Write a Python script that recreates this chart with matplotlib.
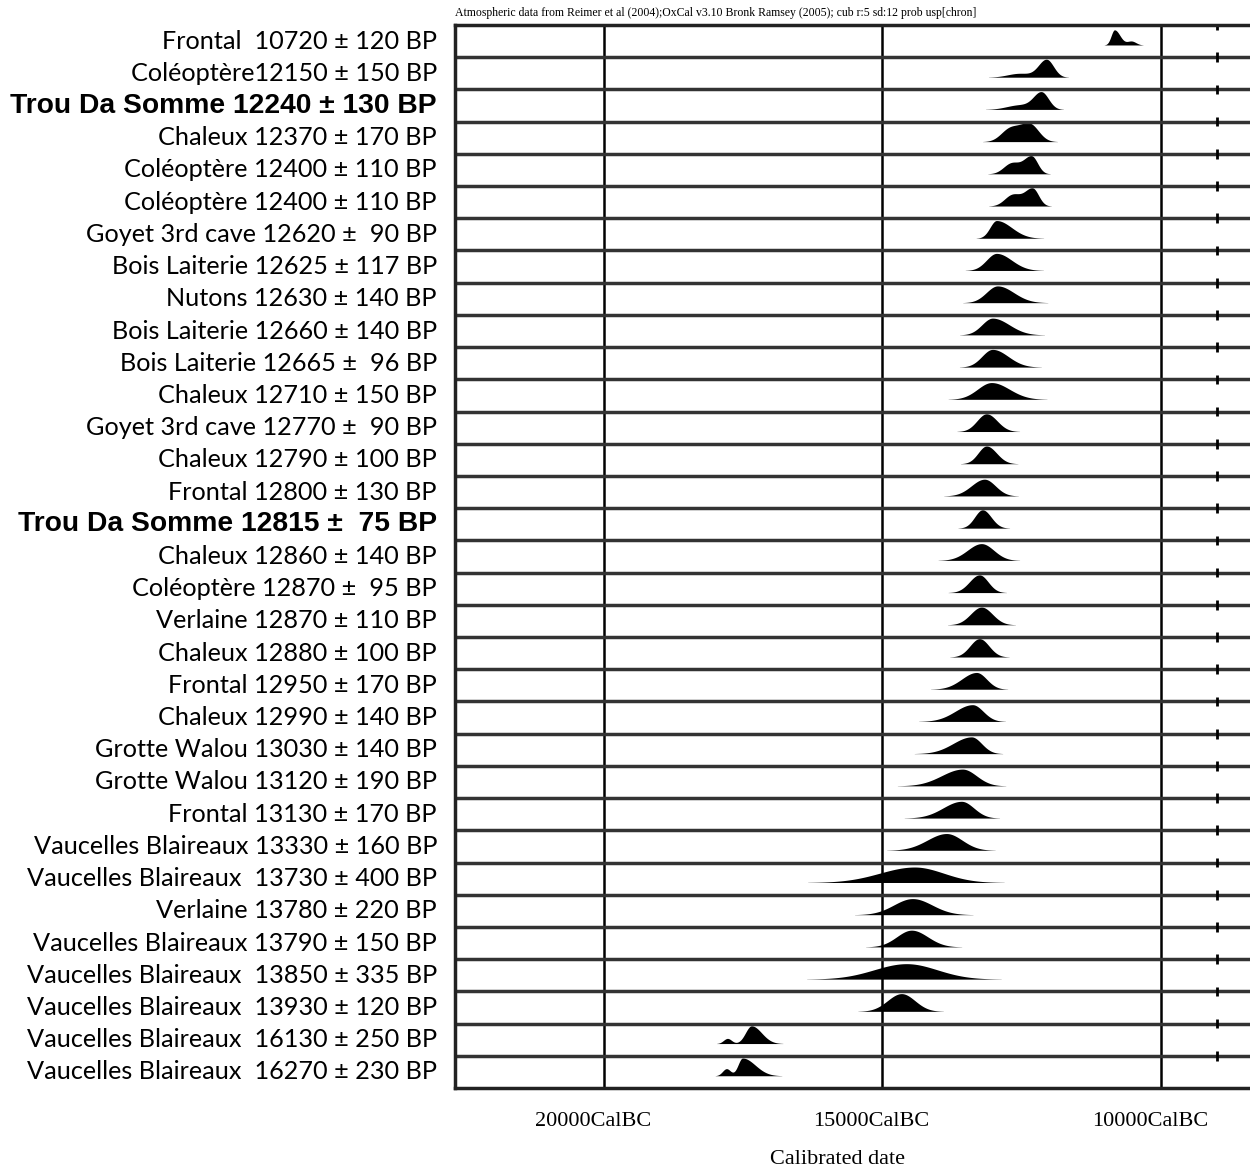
import numpy as np
import matplotlib.pyplot as plt
from matplotlib.transforms import blended_transform_factory, ScaledTranslation

labels = [
    "Frontal  10720 ± 120 BP",
    "Coléoptère12150 ± 150 BP",
    "Trou Da Somme 12240 ± 130 BP",
    "Chaleux 12370 ± 170 BP",
    "Coléoptère 12400 ± 110 BP",
    "Coléoptère 12400 ± 110 BP",
    "Goyet 3rd cave 12620 ±  90 BP",
    "Bois Laiterie 12625 ± 117 BP",
    "Nutons 12630 ± 140 BP",
    "Bois Laiterie 12660 ± 140 BP",
    "Bois Laiterie 12665 ±  96 BP",
    "Chaleux 12710 ± 150 BP",
    "Goyet 3rd cave 12770 ±  90 BP",
    "Chaleux 12790 ± 100 BP",
    "Frontal 12800 ± 130 BP",
    "Trou Da Somme 12815 ±  75 BP",
    "Chaleux 12860 ± 140 BP",
    "Coléoptère 12870 ±  95 BP",
    "Verlaine 12870 ± 110 BP",
    "Chaleux 12880 ± 100 BP",
    "Frontal 12950 ± 170 BP",
    "Chaleux 12990 ± 140 BP",
    "Grotte Walou 13030 ± 140 BP",
    "Grotte Walou 13120 ± 190 BP",
    "Frontal 13130 ± 170 BP",
    "Vaucelles Blaireaux 13330 ± 160 BP",
    "Vaucelles Blaireaux  13730 ± 400 BP",
    "Verlaine 13780 ± 220 BP",
    "Vaucelles Blaireaux 13790 ± 150 BP",
    "Vaucelles Blaireaux  13850 ± 335 BP",
    "Vaucelles Blaireaux  13930 ± 120 BP",
    "Vaucelles Blaireaux  16130 ± 250 BP",
    "Vaucelles Blaireaux  16270 ± 230 BP",
]
bold_rows = [2, 15]

# calibrated distributions (cal BC)
peaks = [10835, 12056, 12145, 12361, 12325, 12307, 12953, 12953, 12935, 13025,
         13025, 13043, 13133, 13133, 13169, 13205, 13223, 13259, 13223, 13259,
         13312, 13384, 13402, 13564, 13582, 13851, 14425, 14461, 14479, 14569,
         14659, 17352, 17513]
sd_old = [60, 144, 144, 180, 144, 144, 117, 180, 200, 190,
          190, 250, 170, 150, 235, 140, 250, 180, 195, 170,
          265, 310, 330, 375, 330, 345, 620, 335, 265, 580,
          250, 108, 80]
sd_young = [100, 126, 126, 160, 108, 108, 270, 270, 290, 300,
            280, 320, 190, 180, 195, 155, 220, 155, 195, 170,
            180, 190, 180, 250, 220, 280, 520, 350, 290, 550,
            240, 180, 226]
heights = [0.47, 0.55, 0.52, 0.55, 0.55, 0.55, 0.55, 0.53, 0.52, 0.52,
           0.55, 0.52, 0.55, 0.55, 0.52, 0.57, 0.52, 0.55, 0.55, 0.57,
           0.52, 0.52, 0.52, 0.52, 0.52, 0.52, 0.48, 0.5, 0.52, 0.48,
           0.55, 0.55, 0.55]
# secondary bumps / shoulders
bump_pos = [10530, 12540, 12540, 12720, 12684, 12666] + [0] * 25 + [17783, 17801]
bump_sd = [80, 215, 230, 160, 144, 144] + [0] * 25 + [72, 72]
bump_h = [0.12, 0.12, 0.14, 0.38, 0.33, 0.35] + [0] * 25 + [0.16, 0.22]

ticks = [20000, 15000, 10000]
tick_labels = ["20000CalBC", "15000CalBC", "10000CalBC"]

fig = plt.figure(figsize=(12.5, 11.69), dpi=100)
ax = fig.add_axes([0.364, 0.06929, 0.636, 0.90932])
n = len(labels)
ax.set_xlim(22675, 8402)
ax.set_ylim(n, 0)

x = np.linspace(8000, 23000, 4000)
for i in range(n):
    s = np.where(x > peaks[i], sd_old[i], sd_young[i])
    d = heights[i] * np.exp(-0.5 * ((x - peaks[i]) / s) ** 2)
    if bump_h[i] > 0:
        d = d + bump_h[i] * np.exp(-0.5 * ((x - bump_pos[i]) / bump_sd[i]) ** 2)
    base = i + 0.62
    ax.fill_between(x, base - d, base, where=d > 0.004, color='black', lw=0)

for t in ticks:
    ax.axvline(t, color='black', lw=1.8)
ax.hlines(np.arange(1, n), 22675, 8402, color='#333333', lw=2.5)
rows = np.arange(0, n)
ax.vlines(np.full(n, 9000), rows - 0.15, rows + 0.15, color='black', lw=2)

for side in ['left', 'bottom', 'top']:
    ax.spines[side].set_linewidth(2.5)
    ax.spines[side].set_color('#222222')
ax.spines['right'].set_visible(False)
ax.set_yticks([])
ax.set_xticks(ticks)
ax.set_xticklabels(tick_labels, family='Liberation Serif', fontsize=16)
ax.tick_params(axis='x', length=0, pad=17)
for lab in ax.get_xticklabels():
    lab.set_transform(lab.get_transform() + ScaledTranslation(-0.11, 0, fig.dpi_scale_trans))

trans = blended_transform_factory(fig.transFigure, ax.transData)
for i, lab in enumerate(labels):
    if i in bold_rows:
        fig.text(437 / 1250, i + 0.5, lab, transform=trans, ha='right', va='center',
                 family='Liberation Sans', fontweight='bold', fontsize=20.3)
    else:
        fig.text(437 / 1250, i + 0.5, lab, transform=trans, ha='right', va='center',
                 family='Lato', fontsize=18.2)

fig.text(455 / 1250, 1 - 13 / 1169,
         "Atmospheric data from Reimer et al (2004);OxCal v3.10 Bronk Ramsey (2005); cub r:5 sd:12 prob usp[chron]",
         family='Liberation Serif', fontsize=8.5, va='center')
fig.text(838 / 1250, 1 - 1159 / 1169, "Calibrated date", family='Liberation Serif',
         fontsize=16, ha='center', va='center')

fig.savefig('out.png', dpi=100)
